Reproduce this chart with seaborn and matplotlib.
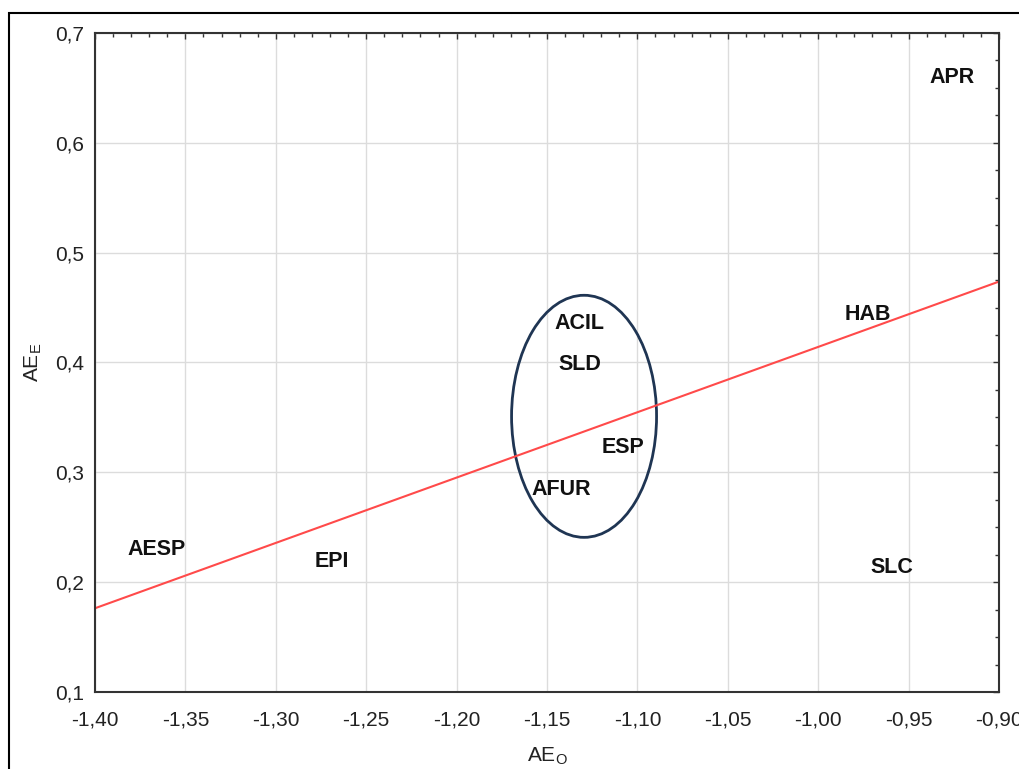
import matplotlib
matplotlib.use("Agg")
import matplotlib.pyplot as plt
import seaborn as sns
import pandas as pd
import numpy as np
from matplotlib.patches import Ellipse, Rectangle
from matplotlib.ticker import MultipleLocator, FuncFormatter

# Data; labels sit just above their (hidden) points
labels = ["APR", "HAB", "ACIL", "SLD", "ESP", "AFUR", "AESP", "EPI", "SLC"]
ae_o = [-0.926, -0.9725, -1.132, -1.132, -1.108, -1.142, -1.366, -1.269, -0.959]
ae_e = [0.651, 0.435, 0.427, 0.390, 0.314, 0.276, 0.221, 0.210, 0.205]
x_ticks = [-1.40, -1.35, -1.30, -1.25, -1.20, -1.15, -1.10, -1.05, -1.00, -0.95, -0.90]
y_ticks = [0.1, 0.2, 0.3, 0.4, 0.5, 0.6, 0.7]
ellipse_center = (-1.1295, 0.351)
ellipse_size = (0.0802, 0.2204)

df = pd.DataFrame({"AEO": ae_o, "AEE": ae_e, "label": labels})

sns.set_theme(style="white")
plt.rcParams["font.family"] = ["Liberation Sans", "DejaVu Sans"]
plt.rcParams["mathtext.fontset"] = "custom"
plt.rcParams["mathtext.rm"] = "Liberation Sans"

fig = plt.figure(figsize=(10.19, 7.69), dpi=100)
ax = fig.add_axes([95/1019, 1-692/769, (999-95)/1019, (692-33)/769])
ax.set_xlim(x_ticks[0], x_ticks[-1])
ax.set_ylim(y_ticks[0], y_ticks[-1])

sns.regplot(data=df, x="AEO", y="AEE", ax=ax, scatter=False, ci=None,
            truncate=False, line_kws={"color": "#ff4a4a", "lw": 1.5})

for lab, xv, yv in zip(df["label"], df["AEO"], df["AEE"]):
    ax.annotate(lab, (xv, yv), xytext=(0, 8.6), textcoords="offset points",
                ha="center", va="center_baseline", fontsize=15.5,
                fontweight="bold", color="#111111")

ax.add_patch(Ellipse(ellipse_center, ellipse_size[0], ellipse_size[1],
                     fill=False, edgecolor="#1f3553", lw=2.0))

ax.set_xlim(x_ticks[0], x_ticks[-1])
ax.set_ylim(y_ticks[0], y_ticks[-1])
ax.set_xticks(x_ticks)
ax.set_yticks(y_ticks)
ax.xaxis.set_minor_locator(MultipleLocator(0.01))
ax.yaxis.set_minor_locator(MultipleLocator(0.025))
ax.xaxis.set_major_formatter(FuncFormatter(lambda v, p: f"{v:.2f}".replace(".", ",")))
ax.yaxis.set_major_formatter(FuncFormatter(lambda v, p: f"{v:.1f}".replace(".", ",")))
ax.grid(True, which="major", color="#dcdcdc", lw=1.0)
ax.set_axisbelow(True)
ax.tick_params(which="both", direction="in", top=True, right=True, colors="#333333",
               labelcolor="#222222", labelsize=15)
ax.tick_params(which="major", length=4, width=1, pad=8)
ax.tick_params(axis="x", which="major", pad=13)
ax.tick_params(which="minor", length=3, width=1)
for s in ax.spines.values():
    s.set_color("#333333")
    s.set_linewidth(1.5)

ax.set_xlabel(r"AE$_\mathregular{O}$", fontsize=15, color="#222222", labelpad=12)
ax.set_ylabel(r"AE$_\mathregular{E}$", fontsize=15, color="#222222", labelpad=8)

fig.patches.append(Rectangle((9/1019, -0.05), 1.2, 1-13/769+0.05,
                             transform=fig.transFigure, fill=False,
                             edgecolor="black", lw=1.5, clip_on=False))

fig.savefig("out.png", dpi=100)
